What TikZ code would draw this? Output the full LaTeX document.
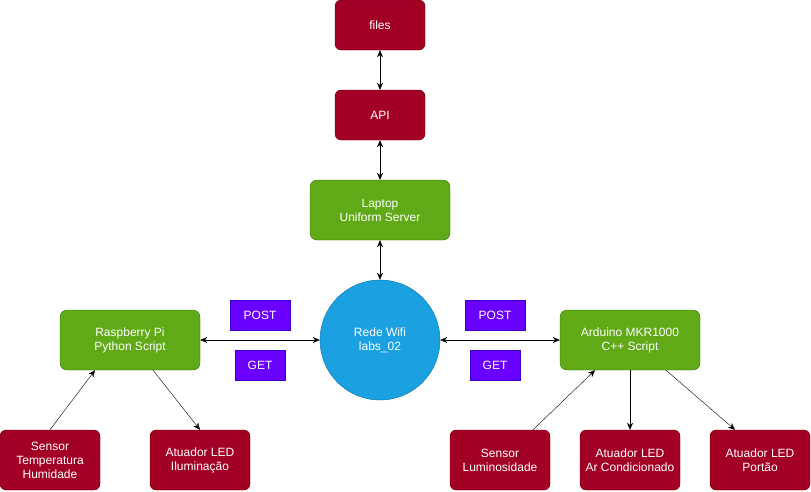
\documentclass[tikz,border=0pt]{standalone}
\usepackage{fontspec}
\setmainfont{Liberation Sans}
\usetikzlibrary{arrows.meta}

\begin{document}
\begin{tikzpicture}[x=1pt,y=-1pt, >={Stealth[length=7pt,width=6pt]},
    every node/.style={font=\fontsize{12}{14}\selectfont, text=white, align=center},
    rnode/.style={draw=red!40!black, fill={rgb,255:red,162;green,0;blue,37}, rounded corners=6pt, minimum width=100pt, minimum height=60pt, inner sep=0pt},
    gnode/.style={draw={rgb,255:red,45;green,118;blue,0}, fill={rgb,255:red,96;green,169;blue,23}, rounded corners=7pt, minimum width=140pt, minimum height=60pt, inner sep=0pt},
    wnode/.style={draw={rgb,255:red,0;green,110;blue,175}, fill={rgb,255:red,27;green,161;blue,226}, circle, minimum size=120pt, inner sep=0pt},
    pnode/.style={draw={rgb,255:red,55;green,0;blue,204}, fill={rgb,255:red,106;green,0;blue,255}, minimum height=30pt, inner sep=0pt}]
    \useasboundingbox (0,0) rectangle (811,491);

    \node[rnode, minimum width=90pt, minimum height=50pt] (files) at (380,25) {files};
    \node[rnode, minimum width=90pt, minimum height=50pt] (api) at (380,115) {API};
    \node[gnode] (laptop) at (380,210) {Laptop\\Uniform Server};
    \node[wnode] (wifi) at (380,340) {Rede Wifi\\labs\_02};
    \node[gnode] (rpi) at (130,340) {Raspberry Pi\\Python Script};
    \node[gnode] (ard) at (630,340) {Arduino MKR1000\\C++ Script};

    \node[pnode, minimum width=60pt] (post1) at (260,315) {POST};
    \node[pnode, minimum width=50pt] (get1) at (260,365) {GET};
    \node[pnode, minimum width=60pt] (post2) at (495,315) {POST};
    \node[pnode, minimum width=50pt] (get2) at (495,365) {GET};

    \node[rnode] (stemp) at (50,460) {Sensor\\Temperatura\\Humidade};
    \node[rnode] (ailum) at (200,460) {Atuador LED\\Iluminação};
    \node[rnode] (slum) at (500,460) {Sensor\\Luminosidade};
    \node[rnode] (aar) at (630,460) {Atuador LED\\Ar Condicionado};
    \node[rnode] (aport) at (760,460) {Atuador LED\\Portão};

    \draw[<->] (files) -- (api);
    \draw[<->] (api) -- (laptop);
    \draw[<->] (laptop) -- (wifi);
    \draw[<->] (rpi) -- (wifi);
    \draw[<->] (wifi) -- (ard);

    \draw[->] (stemp.north) -- (rpi.south west -| 95,0) ;
    \draw[->] (rpi.south east -| 153,0) -- (ailum.north) ;
    \draw[->] (slum.north east -| 533,0) -- (ard.south west -| 595,0) ;
    \draw[->] (ard.south) -- (aar.north) ;
    \draw[->] (ard.south east -| 666,0) -- (aport.north west -| 735,0) ;
\end{tikzpicture}
\end{document}
